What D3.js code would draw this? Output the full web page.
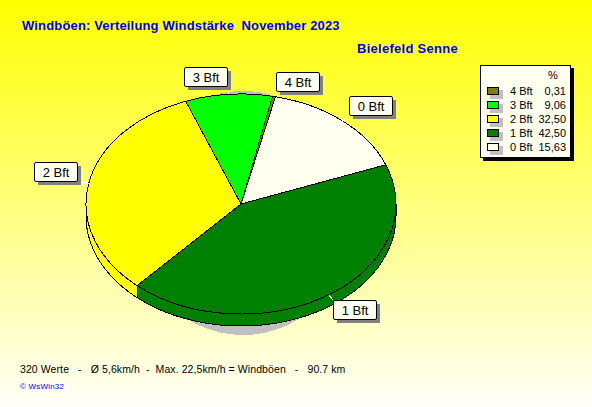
<!DOCTYPE html>
<html lang="de">
<head>
  <meta charset="UTF-8" />
  <title>Windböen: Verteilung Windstärke November 2023</title>
  <style>
    html, body { margin: 0; padding: 0; background: #fffff0; overflow: hidden; }
    svg { display: block; }
    text { font-family: "Liberation Sans", Arial, sans-serif; fill: #000; }
    .title { font-size: 13px; font-weight: bold; fill: #0000ff; letter-spacing: 0.16px; }
    .station { letter-spacing: 0.28px; }
    .slice { stroke: #000; stroke-width: 1; shape-rendering: crispEdges; vector-effect: non-scaling-stroke; }
    .tag { font-size: 13px; }
    .legend { font-size: 11px; }
    .foot { font-size: 10.5px; letter-spacing: 0.09px; }
  </style>
</head>
<body>
  <svg width="592" height="407"></svg>

  <script src="https://d3js.org/d3.v7.min.js"></script>
  <script>
    const categories = ["0 Bft", "4 Bft", "3 Bft", "2 Bft", "1 Bft"];
    const percents = [15.63, 0.31, 9.06, 32.50, 42.50];
    const percentLabels = ["15,63", "0,31", "9,06", "32,50", "42,50"];
    const colors = ["#fffff0", "#808000", "#00ff00", "#ffff00", "#008000"];
    const legendOrder = ["4 Bft", "3 Bft", "2 Bft", "1 Bft", "0 Bft"];

    const titleText = "Windböen: Verteilung Windstärke  November 2023";
    const stationText = "Bielefeld Senne";
    const footText = "320 Werte   -   Ø 5,6km/h  -  Max. 22,5km/h = Windböen   -   90.7 km";
    const creditText = "© WsWin32";

    const svg = d3.select("svg");
    const width = 592, height = 407;

    const defs = svg.append("defs");
    const grad = defs.append("linearGradient")
      .attr("id", "bg").attr("x1", 0).attr("y1", 0).attr("x2", 0).attr("y2", 1);
    grad.append("stop").attr("offset", "0%").attr("stop-color", "#ffff00");
    grad.append("stop").attr("offset", "100%").attr("stop-color", "#fffff8");

    svg.append("rect").attr("width", width).attr("height", height).attr("fill", "url(#bg)");

    svg.append("text").attr("class", "title").attr("x", 22).attr("y", 30)
      .style("white-space", "pre").text(titleText);
    svg.append("text").attr("class", "title station").attr("x", 357).attr("y", 53).text(stationText);

    // pie geometry
    const cx = 241, cy = 204, rx = 155, ry = 110, depth = 12;
    const startDeg = 20.9; // where 0 Bft begins, counter clockwise from east
    const rad = Math.PI / 180;

    const byName = new Map(categories.map((c, i) => [c, i]));
    const pieData = categories.map((c, i) => ({ name: c, value: percents[i], color: colors[i] }));

    const pie = d3.pie().value(d => d.value).sort(null)
      .startAngle((90 - startDeg) * rad)
      .endAngle((90 - startDeg - 360) * rad);
    const arcs = pie(pieData);
    const arc = d3.arc().innerRadius(0).outerRadius(rx);

    const ellX = a => cx + rx * Math.sin(a);
    const ellY = a => cy - ry * Math.cos(a);

    // grey shadow behind the pie
    svg.append("ellipse")
      .attr("cx", 243).attr("cy", 213).attr("rx", 113).attr("ry", 122)
      .attr("fill", "#c0c0c0").attr("shape-rendering", "crispEdges");

    // side wall, only the part of each slice that faces the viewer
    const line = d3.line();
    arcs.forEach(d => {
      // d3 angles run downwards here, so normalise against the front half (90..270 deg)
      let hi = d.startAngle, lo = d.endAngle;
      while (hi < Math.PI / 2) { hi += 2 * Math.PI; lo += 2 * Math.PI; }
      const from = Math.max(lo, Math.PI / 2), to = Math.min(hi, Math.PI * 1.5);
      if (from >= to) return;
      const steps = d3.range(0, 61).map(i => from + (to - from) * i / 60);
      const top = steps.map(a => [ellX(a), ellY(a)]);
      const bottom = steps.map(a => [ellX(a), ellY(a) + depth]).reverse();
      svg.append("path")
        .attr("class", "slice")
        .attr("d", line(top.concat(bottom)) + "Z")
        .attr("fill", d.data.color);
    });

    // top surface
    svg.append("g")
      .attr("transform", `translate(${cx},${cy}) scale(1,${ry / rx})`)
      .selectAll("path")
      .data(arcs)
      .enter()
      .append("path")
      .attr("class", "slice")
      .attr("d", arc)
      .attr("fill", d => d.data.color);

    // callouts: offset of the box corner from the slice's rim point
    const tagOffsets = {
      "0 Bft": [6, -25],
      "4 Bft": [2, -25],
      "3 Bft": [-45, -27],
      "2 Bft": [-55, -22],
      "1 Bft": [4, 5]
    };
    const tagW = 43, tagH = 19;

    arcs.forEach(d => {
      const mid = (d.startAngle + d.endAngle) / 2;
      const px = ellX(mid), py = ellY(mid);
      const [ox, oy] = tagOffsets[d.data.name];
      const bx = Math.round(px + ox), by = Math.round(py + oy);
      const nearX = Math.max(bx, Math.min(px, bx + tagW));
      const nearY = Math.max(by, Math.min(py, by + tagH));

      svg.append("line")
        .attr("x1", px).attr("y1", py).attr("x2", nearX).attr("y2", nearY)
        .attr("stroke", "#fffff0").attr("shape-rendering", "crispEdges");

      svg.append("rect")
        .attr("x", bx + 4).attr("y", by + 4).attr("width", tagW).attr("height", tagH)
        .attr("fill", "#808080");
      svg.append("rect")
        .attr("x", bx + 0.5).attr("y", by + 0.5).attr("width", tagW).attr("height", tagH)
        .attr("rx", 1.5)
        .attr("fill", "#fffff0").attr("stroke", "#000");
      svg.append("text")
        .attr("class", "tag")
        .attr("x", bx + tagW / 2 + 0.5).attr("y", by + 14.5)
        .attr("text-anchor", "middle")
        .text(d.data.name);
    });

    // legend
    const legendY = d3.scalePoint().domain(legendOrder).range([91, 147]);

    svg.append("rect").attr("x", 483).attr("y", 68).attr("width", 91).attr("height", 93).attr("fill", "#000");
    svg.append("rect").attr("x", 480.5).attr("y", 65.5).attr("width", 90).attr("height", 92)
      .attr("fill", "#fffff0").attr("stroke", "#000");
    svg.append("text").attr("class", "legend").attr("x", 553).attr("y", 79)
      .attr("text-anchor", "middle").text("%");

    legendOrder.forEach(name => {
      const i = byName.get(name);
      const y = legendY(name);
      svg.append("rect").attr("x", 490).attr("y", y - 1).attr("width", 13).attr("height", 9).attr("fill", "#c0c0c0");
      svg.append("rect").attr("x", 487.5).attr("y", y - 3.5).attr("width", 11).attr("height", 7)
        .attr("fill", colors[i]).attr("stroke", "#000");
      svg.append("text").attr("class", "legend").attr("x", 510).attr("y", y + 4).text(name);
      svg.append("text").attr("class", "legend").attr("x", 566).attr("y", y + 4)
        .attr("text-anchor", "end").text(percentLabels[i]);
    });

    // footer
    svg.append("text").attr("class", "foot").attr("x", 20).attr("y", 373)
      .style("white-space", "pre").text(footText);
    svg.append("text").attr("x", 20).attr("y", 389)
      .style("font-size", "8px").style("letter-spacing", "0.2px").style("fill", "#0000ff").text(creditText);
  </script>
</body>
</html>
